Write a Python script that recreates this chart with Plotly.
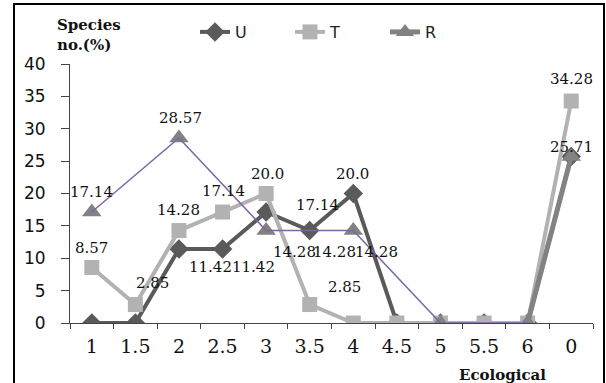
import plotly.graph_objects as go

# ---- data ----
categories = ["1", "1.5", "2", "2.5", "3", "3.5", "4", "4.5", "5", "5.5", "6", "0"]
U = [0, 0, 11.42, 11.42, 17.14, 14.28, 20.0, 0, 0, 0, 0, 25.71]
T = [8.57, 2.85, 14.28, 17.14, 20.0, 2.85, 0, 0, 0, 0, 0, 34.28]
R = [17.14, None, 28.57, None, 14.28, None, 14.28, None, 0, None, 0, 25.71]
y_ticks = [0, 5, 10, 15, 20, 25, 30, 35, 40]

# label placement (index -> pixel shift) : style only
lab_T = {0: (0, 20), 1: (17, 22), 2: (0, 21), 3: (1, 21), 4: (1, 20), 5: (35, 18), 11: (0, 22)}
lab_U = {2: (32, -18), 3: (31, -18), 4: (51, 7), 5: (25, -21), 6: (-1, 20), 11: (0, 10)}
lab_R = {0: (0, 20), 2: (2, 20), 4: (28, -21), 6: (23, -21)}

# ---- layout geometry ----
WIDTH, HEIGHT = 606, 383
L, RR, TT, BB = 70, 593, 64, 323
PW, PH = RR - L, BB - TT


def px_x(p):
    return (p - L) / PW


def px_y(p):
    return (BB - p) / PH


C_U = "#5a5a5a"
C_T = "#b2b2b2"
C_R = "#828282"
C_P = "#8064a2"

fig = go.Figure()

fig.add_trace(go.Scatter(
    x=categories, y=U, name="U", mode="lines+markers",
    line=dict(color=C_U, width=4),
    marker=dict(symbol="diamond", size=15, color=C_U),
))
fig.add_trace(go.Scatter(
    x=categories, y=T, name="T", mode="lines+markers",
    line=dict(color=C_T, width=4),
    marker=dict(symbol="square", size=15, color=C_T),
))
fig.add_trace(go.Scatter(
    x=categories, y=R, name="R", mode="lines+markers",
    line=dict(color=C_R, width=5), connectgaps=False,
    marker=dict(symbol="triangle-up", size=17, color=C_R),
))
# thin purple connector through the R points (up to "6")
px_c = [c for c, v in zip(categories[:-1], R[:-1]) if v is not None]
py_c = [v for v in R[:-1] if v is not None]
fig.add_trace(go.Scatter(
    x=px_c, y=py_c, mode="lines", showlegend=False, hoverinfo="skip",
    line=dict(color=C_P, width=1.5),
))

annotations = []
label_font = dict(family="DejaVu Serif", size=15, color="#111")
for series, labs in ((T, lab_T), (U, lab_U), (R, lab_R)):
    for i, (dx, dy) in labs.items():
        v = series[i]
        annotations.append(dict(
            x=i, y=v, xref="x", yref="y", text=f"{v}",
            showarrow=False, xshift=dx, yshift=dy, font=label_font,
        ))

annotations.append(dict(
    x=px_x(55), y=px_y(35), xref="paper", yref="paper",
    text="<b>Species</b><br><b>no.(%)</b>", align="left",
    xanchor="left", yanchor="middle", showarrow=False,
    font=dict(family="DejaVu Serif", size=15, color="#111"),
))
annotations.append(dict(
    x=px_x(502), y=px_y(375), xref="paper", yref="paper",
    text="<b>Ecological</b>", xanchor="center", yanchor="middle", showarrow=False,
    font=dict(family="DejaVu Serif", size=15, color="#111"),
))

fig.update_layout(
    width=WIDTH, height=HEIGHT,
    margin=dict(l=L, r=WIDTH - RR, t=TT, b=HEIGHT - BB, pad=0),
    paper_bgcolor="white", plot_bgcolor="white",
    showlegend=True,
    legend=dict(
        orientation="h", x=px_x(195), y=px_y(32), xanchor="left", yanchor="middle",
        font=dict(family="DejaVu Sans", size=16, color="#222"),
        bgcolor="rgba(0,0,0,0)", entrywidth=50, traceorder="normal",
    ),
    annotations=annotations,
    shapes=[dict(
        type="rect", xref="paper", yref="paper",
        x0=px_x(14), x1=px_x(604), y0=px_y(420), y1=px_y(4),
        line=dict(color="black", width=2),
    )],
)

fig.update_xaxes(
    type="category", categoryorder="array", categoryarray=categories,
    range=[-0.5, len(categories) - 0.5], tickson="boundaries",
    ticks="outside", ticklen=5, tickcolor="#444",
    showline=True, linecolor="#444", linewidth=1, showgrid=False, zeroline=False,
    tickfont=dict(family="DejaVu Serif", size=19, color="#111"), ticklabelstandoff=6,
)
fig.update_yaxes(
    range=[0, 40], tickvals=y_ticks, ticks="outside", ticklen=8, tickcolor="#444",
    showline=True, linecolor="#444", linewidth=1, showgrid=False, zeroline=False,
    tickfont=dict(family="DejaVu Sans", size=17, color="#111"), ticklabelstandoff=12,
)

fig.write_html("out.html", config={"displayModeBar": False},
               post_script="document.body.style.margin='0';")
